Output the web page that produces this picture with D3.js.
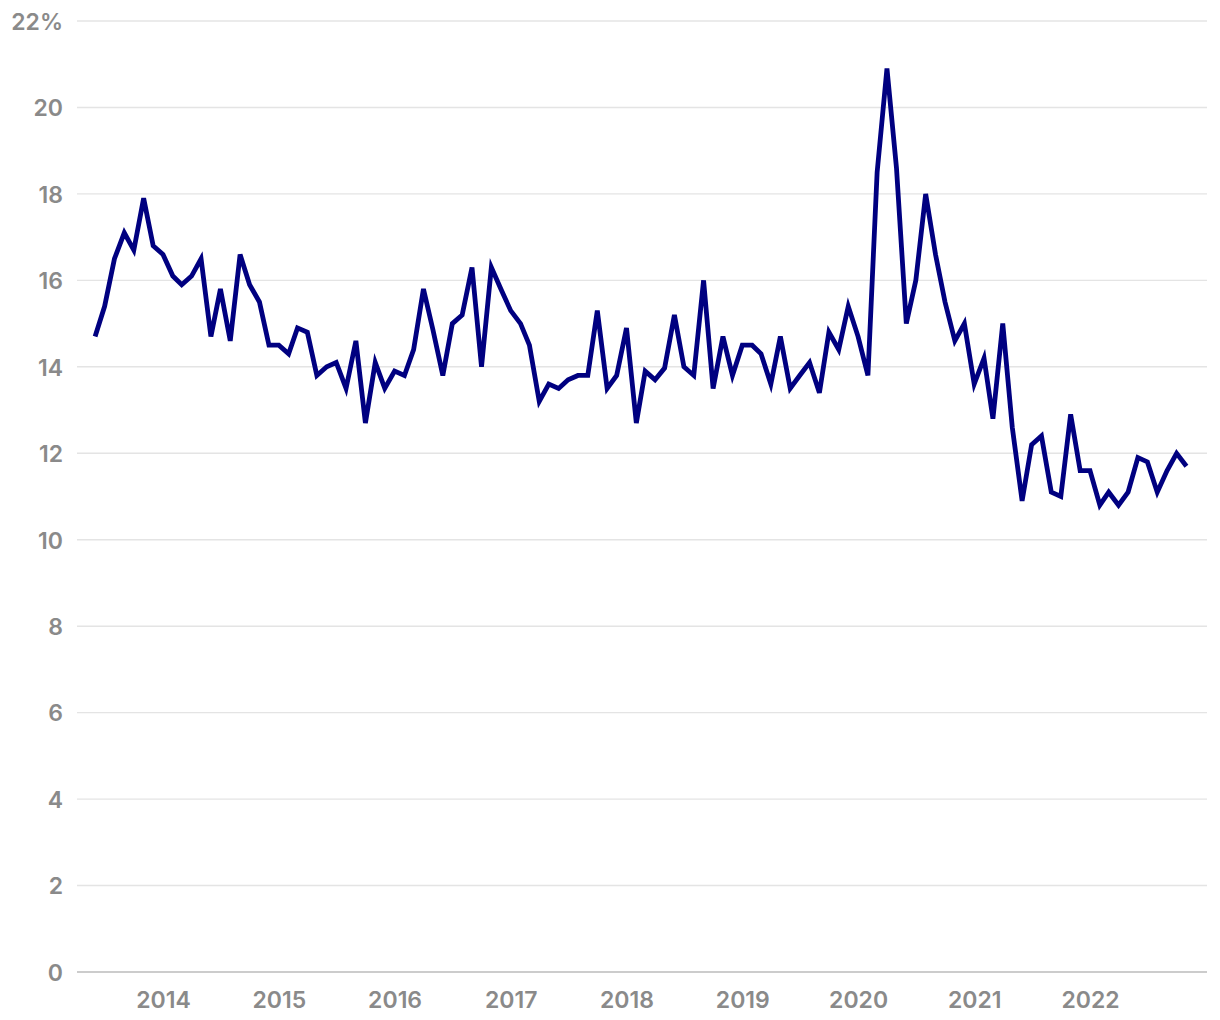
<!DOCTYPE html>
<html>
<head>
<meta charset="utf-8">
<script src="https://cdn.jsdelivr.net/npm/d3@7"></script>
<style>
  html, body { margin: 0; padding: 0; background: #ffffff; }
  svg { display: block; }
  .lbl { font-family: Inter, "Noto Sans", sans-serif; font-weight: 600; font-size: 23px; fill: #8a8a8a; }
</style>
</head>
<body>
<svg id="chart" width="1220" height="1020"></svg>
<script>
// Monthly series, June 2013 to November 2022 (percent)
const startYear = 2013;
const startMonth = 5; // June (0-based)
const values = [
  14.7, 15.4, 16.5, 17.1, 16.7, 17.9, 16.8,                         // 2013 Jun-Dec
  16.6, 16.1, 15.9, 16.1, 16.5, 14.7, 15.8, 14.6, 16.6, 15.9, 15.5, 14.5, // 2014
  14.5, 14.3, 14.9, 14.8, 13.8, 14.0, 14.1, 13.5, 14.6, 12.7, 14.1, 13.5, // 2015
  13.9, 13.8, 14.4, 15.8, 14.85, 13.8, 15.0, 15.2, 16.3, 14.0, 16.3, 15.8, // 2016
  15.3, 15.0, 14.5, 13.2, 13.6, 13.5, 13.7, 13.8, 13.8, 15.3, 13.5, 13.8, // 2017
  14.9, 12.7, 13.9, 13.7, 13.97, 15.2, 14.0, 13.8, 16.0, 13.5, 14.7, 13.8, // 2018
  14.5, 14.5, 14.3, 13.6, 14.7, 13.5, 13.8, 14.1, 13.4, 14.8, 14.4, 15.4, // 2019
  14.7, 13.8, 18.5, 20.9, 18.6, 15.0, 16.0, 18.0, 16.6, 15.5, 14.6, 15.0, // 2020
  13.6, 14.2, 12.8, 15.0, 12.6, 10.9, 12.2, 12.4, 11.1, 11.0, 12.9, 11.6, // 2021
  11.6, 10.8, 11.1, 10.8, 11.1, 11.9, 11.8, 11.1, 11.6, 12.0, 11.7        // 2022 Jan-Nov
];
const yTicks = [0, 2, 4, 6, 8, 10, 12, 14, 16, 18, 20, 22];
const xTickYears = [2014, 2015, 2016, 2017, 2018, 2019, 2020, 2021, 2022];

const data = values.map((v, i) => ({ date: new Date(startYear, startMonth + i, 1), value: v }));

const svg = d3.select("#chart");
const gridLeft = 77, gridRight = 1207;

const x = d3.scaleTime()
  .domain([new Date(2014, 0, 1), new Date(2022, 0, 1)])
  .range([163, 1090]);
const y = d3.scaleLinear().domain([0, 22]).range([972, 21]);

// Gridlines
svg.append("g").selectAll("line")
  .data(yTicks)
  .join("line")
  .attr("x1", gridLeft).attr("x2", gridRight)
  .attr("y1", d => y(d)).attr("y2", d => y(d))
  .attr("stroke", d => d === 0 ? "#cccccc" : "#e4e4e4")
  .attr("stroke-width", d => d === 0 ? 1.8 : 1.4);

// Y axis labels
const yAxis = d3.axisLeft(y)
  .tickValues(yTicks)
  .tickSize(0)
  .tickPadding(0)
  .tickFormat(d => d === 22 ? "22%" : String(d));
const gy = svg.append("g").attr("transform", "translate(63,0)").call(yAxis);
gy.select(".domain").remove();
gy.selectAll("text").attr("class", "lbl").attr("font-family", null).attr("font-size", null)
  .attr("fill", null).attr("dy", "0.36em").attr("x", 0);

// X axis labels
const xAxis = d3.axisBottom(x)
  .tickValues(xTickYears.map(yr => new Date(yr, 0, 1)))
  .tickSize(0)
  .tickPadding(0)
  .tickFormat(d3.timeFormat("%Y"));
const gx = svg.append("g").attr("transform", "translate(0,1008)").call(xAxis);
gx.select(".domain").remove();
gx.selectAll("text").attr("class", "lbl").attr("font-family", null).attr("font-size", null)
  .attr("fill", null).attr("dy", 0).attr("y", 0);

// Line
const line = d3.line()
  .x(d => x(d.date))
  .y(d => y(d.value));
svg.append("path")
  .datum(data)
  .attr("d", line)
  .attr("fill", "none")
  .attr("stroke", "#000080")
  .attr("stroke-width", 4.8)
  .attr("stroke-linejoin", "miter")
  .attr("stroke-miterlimit", 4)
  .attr("stroke-linecap", "butt");
</script>
</body>
</html>
